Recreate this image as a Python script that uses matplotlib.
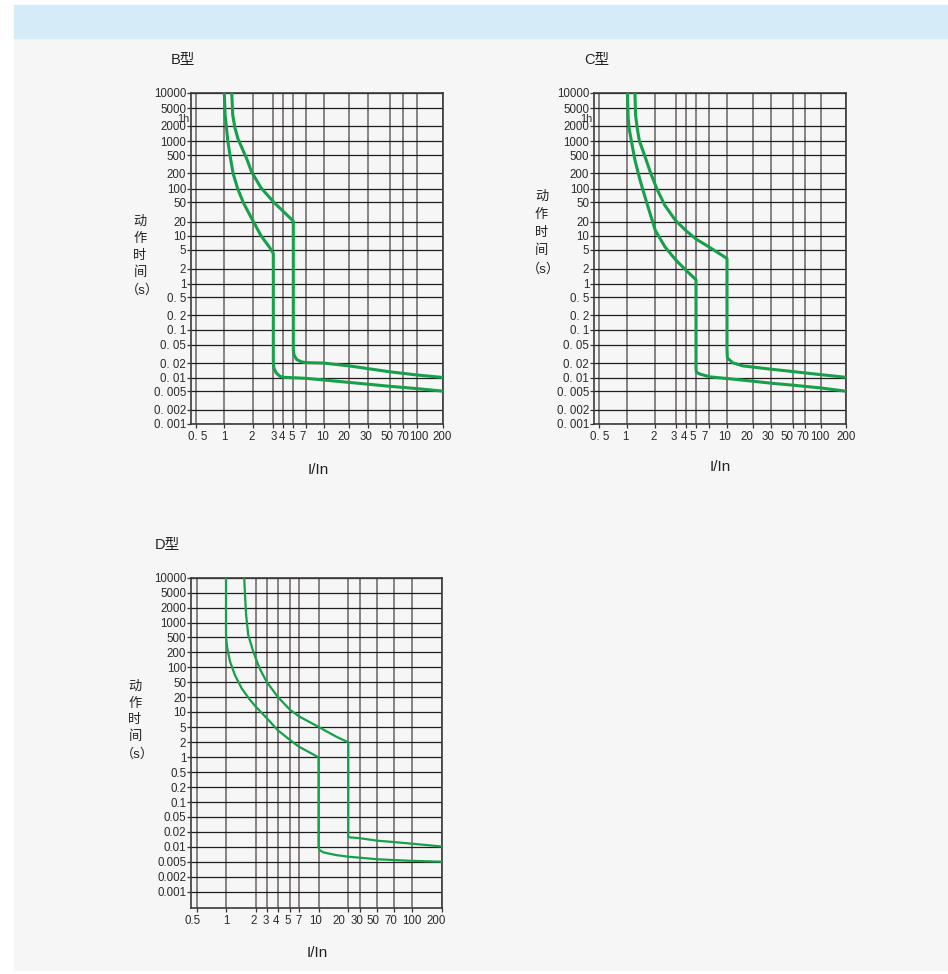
import numpy as np
import matplotlib
matplotlib.use("Agg")
import matplotlib.pyplot as plt
from matplotlib.patches import Rectangle
from matplotlib.transforms import ScaledTranslation

plt.rcParams['font.family'] = ['Liberation Sans', 'Noto Sans CJK SC']

W, H = 948, 974
GREEN = '#17a04b'

# tick values / labels
x_ticks = [0.5, 1, 2, 3, 4, 5, 7, 10, 20, 30, 50, 70, 100, 200]
x_labels_bc = ['0. 5', '1', '2', '3', '4', '5', '7', '10', '20', '30', '50', '70', '100', '200']
x_labels_d = ['0.5', '1', '2', '3', '4', '5', '7', '10', '20', '30', '50', '70', '100', '200']
y_ticks = [0.001, 0.002, 0.005, 0.01, 0.02, 0.05, 0.1, 0.2, 0.5, 1, 2, 5,
           10, 20, 50, 100, 200, 500, 1000, 2000, 5000, 10000]
y_labels_bc = ['0. 001', '0. 002', '0. 005', '0. 01', '0. 02', '0. 05', '0. 1', '0. 2', '0. 5',
               '1', '2', '5', '10', '20', '50', '100', '200', '500', '1000', '2000', '5000', '10000']
y_labels_d = ['0.001', '0.002', '0.005', '0.01', '0.02', '0.05', '0.1', '0.2', '0.5',
              '1', '2', '5', '10', '20', '50', '100', '200', '500', '1000', '2000', '5000', '10000']

# B curves (I/In, seconds)
b_lo_x = [1.0, 1.02, 1.05, 1.09, 1.15, 1.24, 1.39, 1.59, 1.95, 2.36, 2.8, 3.0,
          3.0, 3.05, 3.24, 3.6, 4.0, 7.0, 10, 20, 50, 100, 200]
b_lo_y = [10000, 3500, 2000, 1000, 500, 200, 100, 50, 23.7, 10, 5.6, 4.2,
          0.021, 0.016, 0.0127, 0.0107, 0.0101, 0.0096, 0.0088, 0.0078, 0.0064, 0.0057, 0.005]
b_hi_x = [1.2, 1.23, 1.3, 1.4, 1.55, 1.75, 1.95, 2.36, 3.12, 4.13, 5.0,
          5.0, 5.1, 5.47, 6.2, 7.0, 10, 20, 50, 100, 200]
b_hi_y = [10000, 3500, 1800, 1100, 700, 400, 217, 104, 48, 30.5, 20.5,
          0.039, 0.03, 0.024, 0.0215, 0.0207, 0.0202, 0.0176, 0.0132, 0.0113, 0.010]

# C curves
c_lo_x = [1.02, 1.035, 1.07, 1.12, 1.22, 1.38, 1.62, 2.0, 2.42, 3.0, 4.0, 5.0,
          5.0, 5.05, 5.55, 7.2, 10, 20, 30, 50, 100, 200]
c_lo_y = [10000, 3000, 1600, 1000, 394, 148, 50, 13, 5.85, 3.07, 1.89, 1.2,
          0.0156, 0.013, 0.0118, 0.0103, 0.0095, 0.0083, 0.0075, 0.0068, 0.0059, 0.005]
c_hi_x = [1.22, 1.24, 1.29, 1.36, 1.56, 1.79, 2.06, 2.42, 3.0, 4.0, 5.0, 7.0, 10,
          10, 10.1, 11.7, 15.4, 20, 30, 50, 70, 100, 200]
c_hi_y = [10000, 3500, 1800, 1000, 465, 200, 100, 43, 21, 13, 8.5, 5.85, 3.3,
          0.04, 0.026, 0.0205, 0.0176, 0.0167, 0.015, 0.0134, 0.0125, 0.0115, 0.0101]

# D curves
d_lo_x = [1.0, 1.0, 1.01, 1.03, 1.1, 1.23, 1.44, 1.75, 2.0, 3.0, 4.0, 5.0, 7.0, 10,
          10, 10.3, 11.2, 15, 20, 50, 100, 200]
d_lo_y = [10000, 600, 400, 256, 129, 70, 34.6, 17.7, 12.9, 7.6, 4.2, 2.3, 1.63, 1.0,
          0.0095, 0.0085, 0.0077, 0.0068, 0.0063, 0.0056, 0.0052, 0.005]
d_hi_x = [1.53, 1.56, 1.6, 1.68, 1.89, 2.31, 3.0, 4.0, 5.0, 7.0, 10, 13, 15.2, 20,
          20, 30, 50, 70, 100, 200]
d_hi_y = [10000, 4000, 1420, 556, 208, 95, 51, 20.6, 11.1, 8.2, 5.1, 3.5, 2.8, 2.0,
          0.0155, 0.0148, 0.0132, 0.0124, 0.0115, 0.0101]

# grid positions in the picture (pixels) - the printed scale is hand drawn, not true log
B_XPX = [191, 196, 224.3, 252.5, 273.3, 283.3, 293.3, 306, 324, 349.3, 368, 390, 402.5, 417, 443.3]
C_XPX = [594, 598.7, 626.7, 655.3, 675.7, 685.7, 696, 708.7, 727, 752.5, 771, 792.5, 805, 820.7, 845.7]
D_XPX = [191, 196.7, 226, 255.7, 266.7, 277.7, 290, 299, 318.5, 348.3, 360, 377.3, 394, 411.7, 441.5]
BC_YPX = [424, 410, 391.2, 377.5, 363.3, 344.5, 330, 315.3, 297.3, 283.7, 268.7, 250,
          235.7, 221.7, 202.3, 188.7, 173.3, 155.3, 141, 125.7, 108.3, 92.7]
D_YPX = [908, 891.7, 876.7, 861.7, 846.7, 831.7, 816.7, 802, 787, 772, 757.3, 742.3, 727.3,
         712, 697.3, 682.3, 667.3, 652.3, 637.3, 622.7, 607.7, 592.7, 577.7]
# small horizontal nudges of the x tick labels (pixels), as printed
B_DX = [2, 0, -1, 0, -1, -2, -3, -1, -5, -2, -3, 0, 2, -1]
C_DX = [1, -1, -2, -2, -2, -3, -4, -2, -6, -3, -6, -2, -1, 0]
D_DX = [-4, 0, -2, -1, -2, -2, 0, -3, -9, -3, -4, -3, 0, -5]


def make_scale(vals, px, flip=False):
    lv = np.log10(np.asarray(vals, float))
    u = np.asarray(px, float) * (-1 if flip else 1)

    def fwd(v):
        v = np.clip(np.asarray(v, float), 1e-9, None)
        return np.interp(np.log10(v), lv, u)

    def inv(t):
        return 10 ** np.interp(np.asarray(t, float), u, lv)
    return fwd, inv


fig = plt.figure(figsize=(W / 100, H / 100), dpi=100)
fig.patch.set_facecolor('white')
fig.patches.append(Rectangle((14 / W, 1 - 970 / H), (W - 14) / W, (970 - 38) / H,
                             transform=fig.transFigure, color='#f6f6f6', zorder=-10))
fig.patches.append(Rectangle((14 / W, 1 - 38 / H), (W - 14) / W, 33 / H,
                             transform=fig.transFigure, color='#d5ecf8', zorder=-10))


def panel(xpx, ypx, y_bottom, ylabels, xlabels, dxs, curves, lw, hour=True):
    l, r = xpx[0], xpx[-1]
    t, b = ypx[-1], ypx[0]
    ax = fig.add_axes([l / W, 1 - b / H, (r - l) / W, (b - t) / H])
    ax.set_facecolor('none')
    fx = make_scale([0.45] + x_ticks, xpx)
    yv = ([y_bottom] if y_bottom else []) + y_ticks
    fy = make_scale(yv, ypx, flip=True)
    ax.set_xscale('function', functions=fx)
    ax.set_yscale('function', functions=fy)
    ax.set_xlim(0.45, 200)
    ax.set_ylim(yv[0], 10000)

    ax.set_xticks(x_ticks)
    ax.set_xticklabels(xlabels)
    ax.set_yticks(y_ticks)
    ax.set_yticklabels(ylabels)
    ax.tick_params(axis='both', which='both', direction='out', length=3, width=0.9,
                   color='#333333', labelsize=8.3, labelcolor='#2a2a2a')
    ax.tick_params(axis='y', which='both', pad=0.5)
    ax.tick_params(axis='x', pad=2)
    ax.xaxis.grid(True, color='#6a6262', lw=1.1)
    ax.yaxis.grid(True, color='#1e1e1e', lw=0.9)
    for s in ax.spines.values():
        s.set_color('#3a3a3a')
        s.set_linewidth(1.2)
    for lab, dx in zip(ax.get_xticklabels(), dxs):
        lab.set_transform(lab.get_transform() + ScaledTranslation(dx / 100, 0, fig.dpi_scale_trans))
    if hour:
        # "1h" = 3600 s, printed between 5000 and 2000 without its own grid line
        ax.annotate('1h', xy=(0, 3600), xycoords=('axes fraction', 'data'),
                    xytext=(-1.5, -4), textcoords='offset pixels', ha='right', va='center',
                    fontsize=7.8, color='#2a2a2a')

    for cx, cy in curves:
        ax.plot(cx, cy, color=GREEN, lw=lw, solid_joinstyle='round', zorder=3)
    return ax


panel(B_XPX, BC_YPX, None, y_labels_bc, x_labels_bc, B_DX,
      [(b_lo_x, b_lo_y), (b_hi_x, b_hi_y)], 2.2)
panel(C_XPX, BC_YPX, None, y_labels_bc, x_labels_bc, C_DX,
      [(c_lo_x, c_lo_y), (c_hi_x, c_hi_y)], 2.2)
panel(D_XPX, D_YPX, 0.0004, y_labels_d, x_labels_d, D_DX,
      [(d_lo_x, d_lo_y), (d_hi_x, d_hi_y)], 1.6, hour=False)


def ftext(x, y, s, size, **kw):
    fig.text(x / W, 1 - y / H, s, ha='center', va='center', fontsize=size,
             color='#222222', **kw)


# titles
ftext(183, 60, 'B型', 10.5)
ftext(597, 60, 'C型', 10.5)
ftext(167, 545, 'D型', 10.5)

# y axis labels, one character per line
ylab = ['动', '作', '时', '间']
for (x0, y0, step) in [(140, 222, 16.8), (541.5, 197, 17.8), (135, 687, 16.5)]:
    for i, ch in enumerate(ylab):
        ftext(x0, y0 + i * step, ch, 9.5)
    ftext(x0 + 2, y0 + 4 * step + 1, '（s）', 9.5)

# x axis labels
ftext(318, 470, 'I/In', 11)
ftext(720, 467, 'I/In', 11)
ftext(317, 953, 'I/In', 11)

fig.savefig('out.png', dpi=100, facecolor=fig.get_facecolor())
